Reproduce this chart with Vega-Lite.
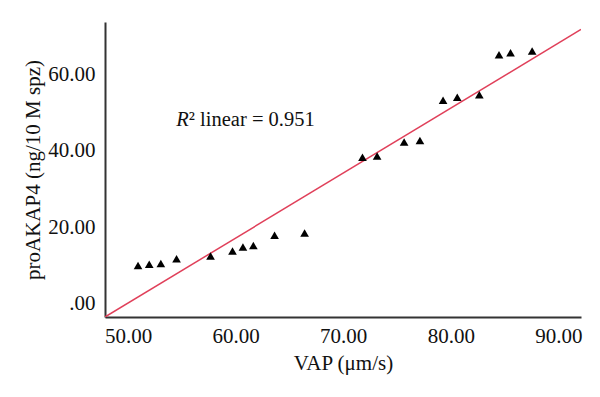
{
  "$schema": "https://vega.github.io/schema/vega-lite/v6.json",
  "width": 476,
  "height": 295,
  "autosize": "none",
  "padding": {"left": 105, "top": 22, "right": 19, "bottom": 80},
  "background": "white",
  "config": {
    "view": {"stroke": null},
    "font": "Liberation Serif",
    "axis": {
      "labelFont": "Liberation Serif",
      "titleFont": "Liberation Serif",
      "labelFontSize": 21,
      "titleFontSize": 21,
      "titleFontWeight": "normal",
      "labelColor": "#111",
      "titleColor": "#111",
      "domainColor": "#333",
      "domainWidth": 2,
      "ticks": false,
      "grid": false
    }
  },
  "datasets": {
    "pts": [
      {"vap": 50.93, "pro": 10.0},
      {"vap": 51.97, "pro": 10.35},
      {"vap": 53.05, "pro": 10.5},
      {"vap": 54.51, "pro": 11.74},
      {"vap": 57.67, "pro": 12.5},
      {"vap": 59.71, "pro": 13.8},
      {"vap": 60.68, "pro": 14.8},
      {"vap": 61.65, "pro": 15.2},
      {"vap": 63.62, "pro": 17.9},
      {"vap": 66.41, "pro": 18.5},
      {"vap": 71.79, "pro": 38.3},
      {"vap": 73.15, "pro": 38.6},
      {"vap": 75.66, "pro": 42.3},
      {"vap": 77.13, "pro": 42.7},
      {"vap": 79.28, "pro": 53.2},
      {"vap": 80.6, "pro": 54.0},
      {"vap": 82.65, "pro": 54.6},
      {"vap": 84.48, "pro": 65.1},
      {"vap": 85.55, "pro": 65.6},
      {"vap": 87.56, "pro": 66.1}
    ],
    "fit": [
      {"vap": 47.86, "pro": -3.47},
      {"vap": 92.1, "pro": 71.7}
    ],
    "ann": [
      {"vap": 55.65, "pro": 47.9}
    ]
  },
  "layer": [
    {
      "data": {"name": "fit"},
      "mark": {"type": "line", "color": "#e0405a", "strokeWidth": 1.5, "clip": true},
      "encoding": {
        "x": {
          "field": "vap", "type": "quantitative",
          "scale": {"domain": [47.86, 92.1], "nice": false, "zero": false},
          "axis": {
            "title": "VAP (μm/s)",
            "values": [50, 60, 70, 80, 90],
            "format": ".2f",
            "labelPadding": 8,
            "titlePadding": 6
          }
        },
        "y": {
          "field": "pro", "type": "quantitative",
          "scale": {"domain": [-3.47, 73.65], "nice": false, "zero": false},
          "axis": {
            "title": "proAKAP4 (ng/10 M spz)",
            "values": [0, 20, 40, 60],
            "labelExpr": "datum.value == 0 ? '.00' : format(datum.value, '.2f')",
            "labelPadding": 10,
            "titlePadding": 4
          }
        }
      }
    },
    {
      "data": {"name": "pts"},
      "mark": {"type": "point", "shape": "triangle-up", "filled": true, "color": "black", "opacity": 1, "size": 75},
      "encoding": {
        "x": {"field": "vap", "type": "quantitative"},
        "y": {"field": "pro", "type": "quantitative"}
      }
    },
    {
      "data": {"name": "ann"},
      "mark": {"type": "text", "text": "R", "fontStyle": "italic", "fontSize": 20.5, "align": "right", "baseline": "middle", "color": "#111"},
      "encoding": {
        "x": {"field": "vap", "type": "quantitative"},
        "y": {"field": "pro", "type": "quantitative"}
      }
    },
    {
      "data": {"name": "ann"},
      "mark": {"type": "text", "text": "² linear = 0.951", "fontSize": 20.5, "align": "left", "baseline": "middle", "color": "#111"},
      "encoding": {
        "x": {"field": "vap", "type": "quantitative"},
        "y": {"field": "pro", "type": "quantitative"}
      }
    }
  ]
}
